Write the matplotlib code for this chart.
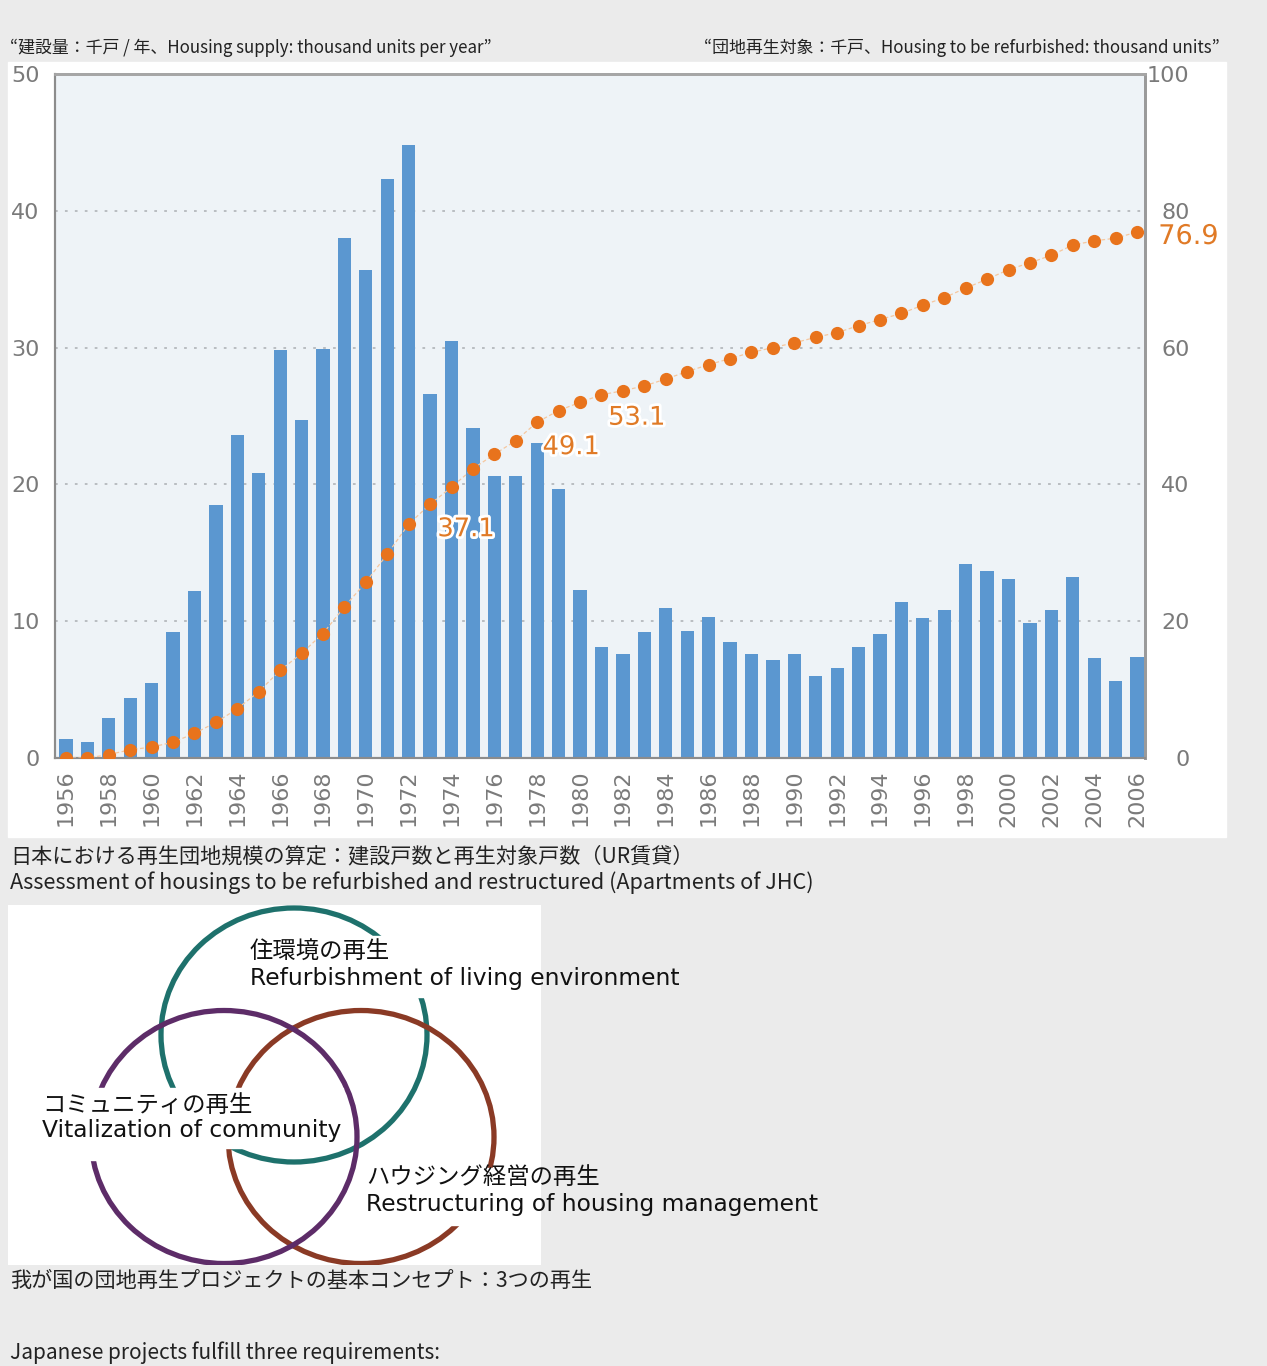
import matplotlib.pyplot as plt
from matplotlib.patches import Rectangle, Ellipse
import matplotlib.patheffects as pe
import numpy as np

plt.rcParams['font.family'] = ['Noto Sans CJK JP', 'DejaVu Sans']

# data, thousand units
years = np.arange(1956, 2007)
supply = [1.4, 1.2, 2.9, 4.4, 5.5, 9.2, 12.2, 18.5, 23.6, 20.8,
          29.8, 24.7, 29.9, 38.0, 35.7, 42.3, 44.8, 26.6, 30.5, 24.1,
          20.6, 20.6, 23.0, 19.7, 12.3, 8.1, 7.6, 9.2, 11.0, 9.3,
          10.3, 8.5, 7.6, 7.2, 7.6, 6.0, 6.6, 8.1, 9.1, 11.4,
          10.2, 10.8, 14.2, 13.7, 13.1, 9.9, 10.8, 13.2, 7.3, 5.6,
          7.4]
refurb = [0.0, 0.0, 0.5, 1.2, 1.6, 2.3, 3.6, 5.2, 7.2, 9.7,
          12.8, 15.3, 18.2, 22.1, 25.7, 29.8, 34.2, 37.1, 39.6, 42.3,
          44.4, 46.4, 49.1, 50.8, 52.0, 53.1, 53.7, 54.4, 55.4, 56.5,
          57.5, 58.4, 59.3, 60.0, 60.7, 61.5, 62.2, 63.2, 64.1, 65.0,
          66.2, 67.3, 68.7, 70.0, 71.4, 72.4, 73.5, 75.0, 75.6, 76.0,
          76.9]
label_years = [1973, 1978, 1981, 2006]
label_texts = ['37.1', '49.1', '53.1', '76.9']
left_ticks = [0, 10, 20, 30, 40, 50]
right_ticks = [0, 20, 40, 60, 80, 100]
year_ticks = np.arange(1956, 2007, 2)

W, H = 1267, 1366
fig = plt.figure(figsize=(W / 100, H / 100), dpi=100, facecolor='#ebebeb')


def box(x0, y0, x1, y1):
    # pixel box (top-left origin) -> figure fraction rect
    return [x0 / W, 1 - y1 / H, (x1 - x0) / W, (y1 - y0) / H]


def ftext(x, y, s, **kw):
    fig.text(x / W, 1 - y / H, s, **kw)


# white panel behind the chart
fig.patches.append(Rectangle((8 / W, 1 - 837 / H), 1218 / W, 775 / H,
                             transform=fig.transFigure, color='white', zorder=-10))

ax = fig.add_axes(box(55, 74, 1145, 758))
ax.set_facecolor('#eef3f7')
ax.bar(years, supply, width=0.62, color='#5b97d0', zorder=2)
ax.set_xlim(1955.49, 2006.37)
ax.set_ylim(0, 50)
ax.set_yticks(left_ticks)
for v in left_ticks[1:-1]:
    ax.axhline(v, color='#b5b9bd', lw=1.3, ls=(0, (1.5, 4)), zorder=1)
ax.set_xticks(year_ticks)
ax.set_xticklabels([str(y) for y in year_ticks], rotation=90)
ax.tick_params(axis='x', length=0, pad=8.5, labelsize=16, labelcolor='#7a7a7a',
               labelfontfamily='DejaVu Sans')
ax.tick_params(axis='y', length=0, pad=11, labelsize=16, labelcolor='#7a7a7a',
               labelfontfamily='DejaVu Sans')

ax2 = ax.twinx()
ax2.plot(years, refurb, color='#f5c79f', lw=0.9, ls=(0, (3, 2)), zorder=3)
ax2.plot(years, refurb, 'o', color='#e8731c', ms=9.5, mec='none', zorder=4)
ax2.set_ylim(0, 100)
ax2.set_yticks(right_ticks)
ax2.tick_params(axis='y', length=0, pad=32, labelsize=16, labelcolor='#7a7a7a',
                labelfontfamily='DejaVu Sans')
for lbl in ax2.get_yticklabels():
    lbl.set_ha('right')

offsets = [(26, -18), (24.5, -18), (25.5, -16.5), (37, -3.6)]
for yr, txt, off in zip(label_years, label_texts, offsets):
    ax2.annotate(txt, (yr, refurb[yr - 1956]), xytext=off, textcoords='offset points',
                 ha='center', va='center', fontsize=19.5 if yr == 2006 else 18.5,
                 color='#e07a26', family='DejaVu Sans', annotation_clip=False, zorder=6,
                 path_effects=[pe.withStroke(linewidth=4, foreground='white')])

for a in (ax, ax2):
    a.spines['left'].set_color('#8c8c8c')
    a.spines['bottom'].set_color('#8c8c8c')
    a.spines['top'].set_color('#a6a6a6')
    a.spines['right'].set_color('#9a9a9a')
    a.spines['top'].set_linewidth(2)
    a.spines['right'].set_linewidth(2)
    a.spines['left'].set_linewidth(1.5)
    a.spines['bottom'].set_linewidth(1.5)

ftext(10, 48, '“建設量：千戸 / 年、Housing supply: thousand units per year”',
      fontsize=12.2, va='center', color='#222')
ftext(1220, 48, '“団地再生対象：千戸、Housing to be refurbished: thousand units”',
      fontsize=12.2, va='center', ha='right', color='#222')
ftext(10, 856, '日本における再生団地規模の算定：建設戸数と再生対象戸数（UR賃貸）',
      fontsize=15.2, va='center', color='#222')
ftext(10, 883, 'Assessment of housings to be refurbished and restructured (Apartments of JHC)',
      fontsize=15.6, va='center', color='#222')

# concept diagram, data coords = pixels
axv = fig.add_axes(box(8, 905, 541, 1265))
axv.set_xlim(8, 541)
axv.set_ylim(1265, 905)
axv.set_facecolor('white')
axv.set_xticks([])
axv.set_yticks([])
for s in axv.spines.values():
    s.set_visible(False)

axv.add_patch(Ellipse((294, 1035), 266, 254, fill=False, ec='#1e716c', lw=3.8))
axv.add_patch(Ellipse((361, 1137), 266, 253, fill=False, ec='#8a3a25', lw=3.8))
axv.add_patch(Ellipse((224, 1137), 266, 253, fill=False, ec='#5d2c68', lw=3.8))

for x0, y0, x1, y1 in [(236, 936, 541, 997), (32, 1088, 343, 1148),
                       (32, 1148, 225, 1160), (364, 1168, 541, 1225)]:
    axv.add_patch(Rectangle((x0, y0), x1 - x0, y1 - y0, color='white', zorder=3))

venn_labels = [(250, 952, '住環境の再生'), (250, 978, 'Refurbishment of living environment'),
               (42, 1105, 'コミュニティの再生'), (42, 1131, 'Vitalization of community'),
               (366, 1178, 'ハウジング経営の再生'), (366, 1204, 'Restructuring of housing management')]
for x, y, s in venn_labels:
    axv.text(x, y, s, fontsize=16.8, va='center', ha='left', color='#111',
             family=['DejaVu Sans', 'Noto Sans CJK JP'], clip_on=False, zorder=5)

ftext(10, 1281, '我が国の団地再生プロジェクトの基本コンセプト：3つの再生',
      fontsize=15.2, va='center', color='#222')
ftext(10, 1364, 'Japanese projects fulfill three requirements:',
      fontsize=15, va='bottom', color='#222')

fig.savefig('out.png', dpi=100, facecolor=fig.get_facecolor())
